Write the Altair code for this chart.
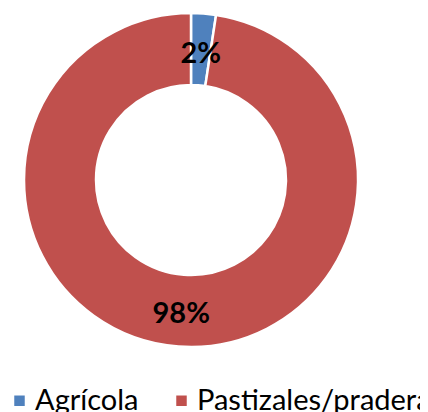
import altair as alt
import pandas as pd

categorias = ["Agrícola", "Pastizales/pradera"]
valores = [2.4, 97.6]
etiquetas = ["2%", "98%"]
colores = ["#4F81BD", "#C0504D"]

df = pd.DataFrame({
    "categoria": categorias,
    "valor": valores,
    "etiqueta": etiquetas,
    "orden": [0, 1],
})

base = alt.Chart(df).encode(
    theta=alt.Theta("valor:Q", stack=True),
    order=alt.Order("orden:Q"),
)

arcs = base.mark_arc(outerRadius=167, innerRadius=95, stroke="white", strokeWidth=2.5).encode(
    color=alt.Color(
        "categoria:N",
        scale=alt.Scale(domain=categorias, range=colores),
        legend=alt.Legend(
            title=None,
            orient="none",
            legendX=-3,
            legendY=378,
            direction="horizontal",
            symbolType="square",
            symbolSize=110,
            symbolStrokeWidth=0,
            labelFont="Lato",
            labelFontSize=29,
            labelColor="#000000",
            labelOffset=1,
            columnPadding=28,
            labelLimit=1000,
            padding=0,
        ),
    )
)

labels = base.mark_text(radius=130, dy=4, font="Lato", fontSize=29, fontWeight="bold", color="#000000").encode(
    text="etiqueta:N"
)

chart = (arcs + labels).properties(
    width=366,
    height=344,
    padding={"left": 0, "top": 0, "right": 46, "bottom": 60},
    autosize=alt.AutoSizeParams(type="none"),
    background="white",
).configure_view(stroke=None)

chart.save("out.html", embed_options={"renderer": "svg", "actions": False})
